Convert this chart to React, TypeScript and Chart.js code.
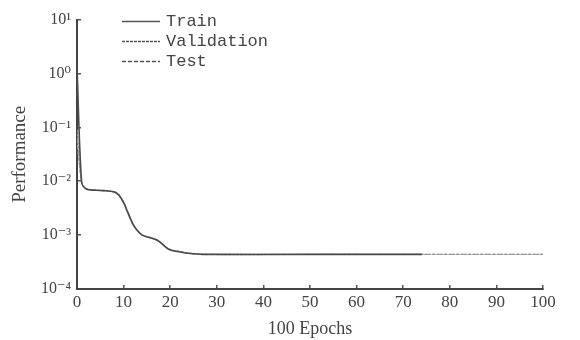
import React, { useEffect, useRef } from "react";
import { Chart, registerables } from "chart.js";

Chart.register(...registerables);

// Epoch positions (x) and performance values (y)
const trainEpochs = [0, 1, 2, 4, 6, 8, 9, 10, 11, 12, 13, 14, 16, 17, 18, 19, 20, 22, 24, 27, 50, 74];
const trainPerf = [1.3, 0.0095, 0.0072, 0.0068, 0.0067, 0.0063, 0.0055, 0.004, 0.0025, 0.0016, 0.0012, 0.001, 0.00088, 0.00082, 0.00072, 0.0006, 0.00053, 0.00049, 0.00046, 0.00044, 0.00044, 0.00044];

const valEpochs = [0, 1, 2, 4, 6, 8, 9, 10, 11, 12, 13, 14, 16, 17, 18, 19, 20, 22, 24, 27, 50, 74, 100];
const valPerf = [0.09, 0.0097, 0.0073, 0.0069, 0.0067, 0.0064, 0.0056, 0.0041, 0.0026, 0.0016, 0.0012, 0.001, 0.00089, 0.00083, 0.00073, 0.00061, 0.00054, 0.0005, 0.00046, 0.00044, 0.00044, 0.00044, 0.00044];

const testEpochs = [0, 1, 2, 4, 6, 8, 9, 10, 11, 12, 13, 14, 16, 17, 18, 19, 20, 22, 24, 27, 50, 74, 100];
const testPerf = [0.06, 0.0096, 0.0072, 0.0068, 0.0066, 0.0063, 0.0055, 0.004, 0.0025, 0.0016, 0.0012, 0.001, 0.00088, 0.00082, 0.00072, 0.0006, 0.00053, 0.00049, 0.00046, 0.00044, 0.00044, 0.00044, 0.00044];

const seriesLabels = ["Train", "Validation", "Test"];
const yTickValues = [1e-4, 1e-3, 1e-2, 1e-1, 1, 10];
const yTickLabels = ["10⁻⁴", "10⁻³", "10⁻²", "10⁻¹", "10⁰", "10¹"];
const xTickValues = [0, 10, 20, 30, 40, 50, 60, 70, 80, 90, 100];
const xTitle = "100 Epochs";
const yTitle = "Performance";

const toPoints = (xs: number[], ys: number[]) => xs.map((x, i) => ({ x, y: ys[i] }));

const legendPlugin = {
  id: "insideLegend",
  afterDraw(chart: any) {
    const { ctx, chartArea } = chart;
    ctx.save();
    chart.data.datasets.forEach((ds: any, i: number) => {
      const y = chartArea.top + 2 + i * 20;
      const x0 = chartArea.left + 45;
      const x1 = chartArea.left + 83;
      ctx.beginPath();
      ctx.setLineDash(ds.borderDash || []);
      ctx.strokeStyle = "#555";
      ctx.lineWidth = 1.5;
      ctx.moveTo(x0, y);
      ctx.lineTo(x1, y);
      ctx.stroke();
      ctx.setLineDash([]);
      ctx.fillStyle = "#444";
      ctx.font = "17px 'Liberation Mono', monospace";
      ctx.textBaseline = "middle";
      ctx.textAlign = "left";
      ctx.fillText(ds.label, x1 + 6, y);
    });
    ctx.restore();
  },
};

export default function App() {
  const ref = useRef<HTMLCanvasElement | null>(null);

  useEffect(() => {
    if (!ref.current) return;
    const serif = "'Liberation Serif', 'DejaVu Serif', serif";
    const chart = new Chart(ref.current, {
      type: "line",
      data: {
        datasets: [
          {
            label: seriesLabels[0],
            data: toPoints(trainEpochs, trainPerf),
            borderColor: "#4a4a4a",
            borderWidth: 1.6,
            pointRadius: 0,
            tension: 0.3,
          },
          {
            label: seriesLabels[1],
            data: toPoints(valEpochs, valPerf),
            borderColor: "#999",
            borderWidth: 1.4,
            borderDash: [3, 1],
            pointRadius: 0,
            tension: 0.3,
          },
          {
            label: seriesLabels[2],
            data: toPoints(testEpochs, testPerf),
            borderColor: "#a5a5a5",
            borderWidth: 1.2,
            borderDash: [4, 2],
            pointRadius: 0,
            tension: 0.3,
          },
        ],
      },
      options: {
        animation: false,
        responsive: false,
        layout: { padding: { left: 9, right: 37, top: 13, bottom: 0 } },
        plugins: { legend: { display: false }, tooltip: { enabled: false } },
        scales: {
          x: {
            type: "linear",
            min: 0,
            max: 100,
            afterFit: (s: any) => {
              s.height = 51;
            },
            afterBuildTicks: (s: any) => {
              s.ticks = xTickValues.map((v) => ({ value: v }));
            },
            ticks: {
              color: "#444",
              font: { family: serif, size: 17 },
              padding: 7,
              maxRotation: 0,
            },
            grid: {
              display: true,
              drawOnChartArea: false,
              drawTicks: true,
              tickLength: -4,
              color: "#555",
              lineWidth: 1.5,
            },
            border: { display: true, color: "#444", width: 2 },
            title: {
              display: true,
              text: xTitle,
              color: "#444",
              font: { family: serif, size: 18 },
              padding: 0,
            },
          },
          y: {
            type: "logarithmic",
            min: 1e-4,
            max: 10,
            afterFit: (s: any) => {
              s.width = 68;
            },
            afterBuildTicks: (s: any) => {
              s.ticks = yTickValues.map((v) => ({ value: v }));
            },
            ticks: {
              color: "#444",
              font: { family: serif, size: 16 },
              padding: 10,
              callback: (v: any) => {
                const idx = yTickValues.findIndex((t) => Math.abs(Math.log10(t) - Math.log10(v)) < 1e-6);
                return idx >= 0 ? yTickLabels[idx] : "";
              },
            },
            grid: {
              display: true,
              drawOnChartArea: false,
              drawTicks: true,
              tickLength: -4,
              color: "#555",
              lineWidth: 1.5,
            },
            border: { display: true, color: "#444", width: 2 },
            title: {
              display: true,
              text: yTitle,
              color: "#444",
              font: { family: serif, size: 19 },
              padding: 0,
            },
          },
        },
      },
      plugins: [legendPlugin],
    });
    return () => chart.destroy();
  }, []);

  return (
    <div style={{ position: "fixed", left: 0, top: 0, width: 580, height: 340, background: "#fff" }}>
      <canvas ref={ref} width={580} height={340} style={{ display: "block" }} />
    </div>
  );
}
